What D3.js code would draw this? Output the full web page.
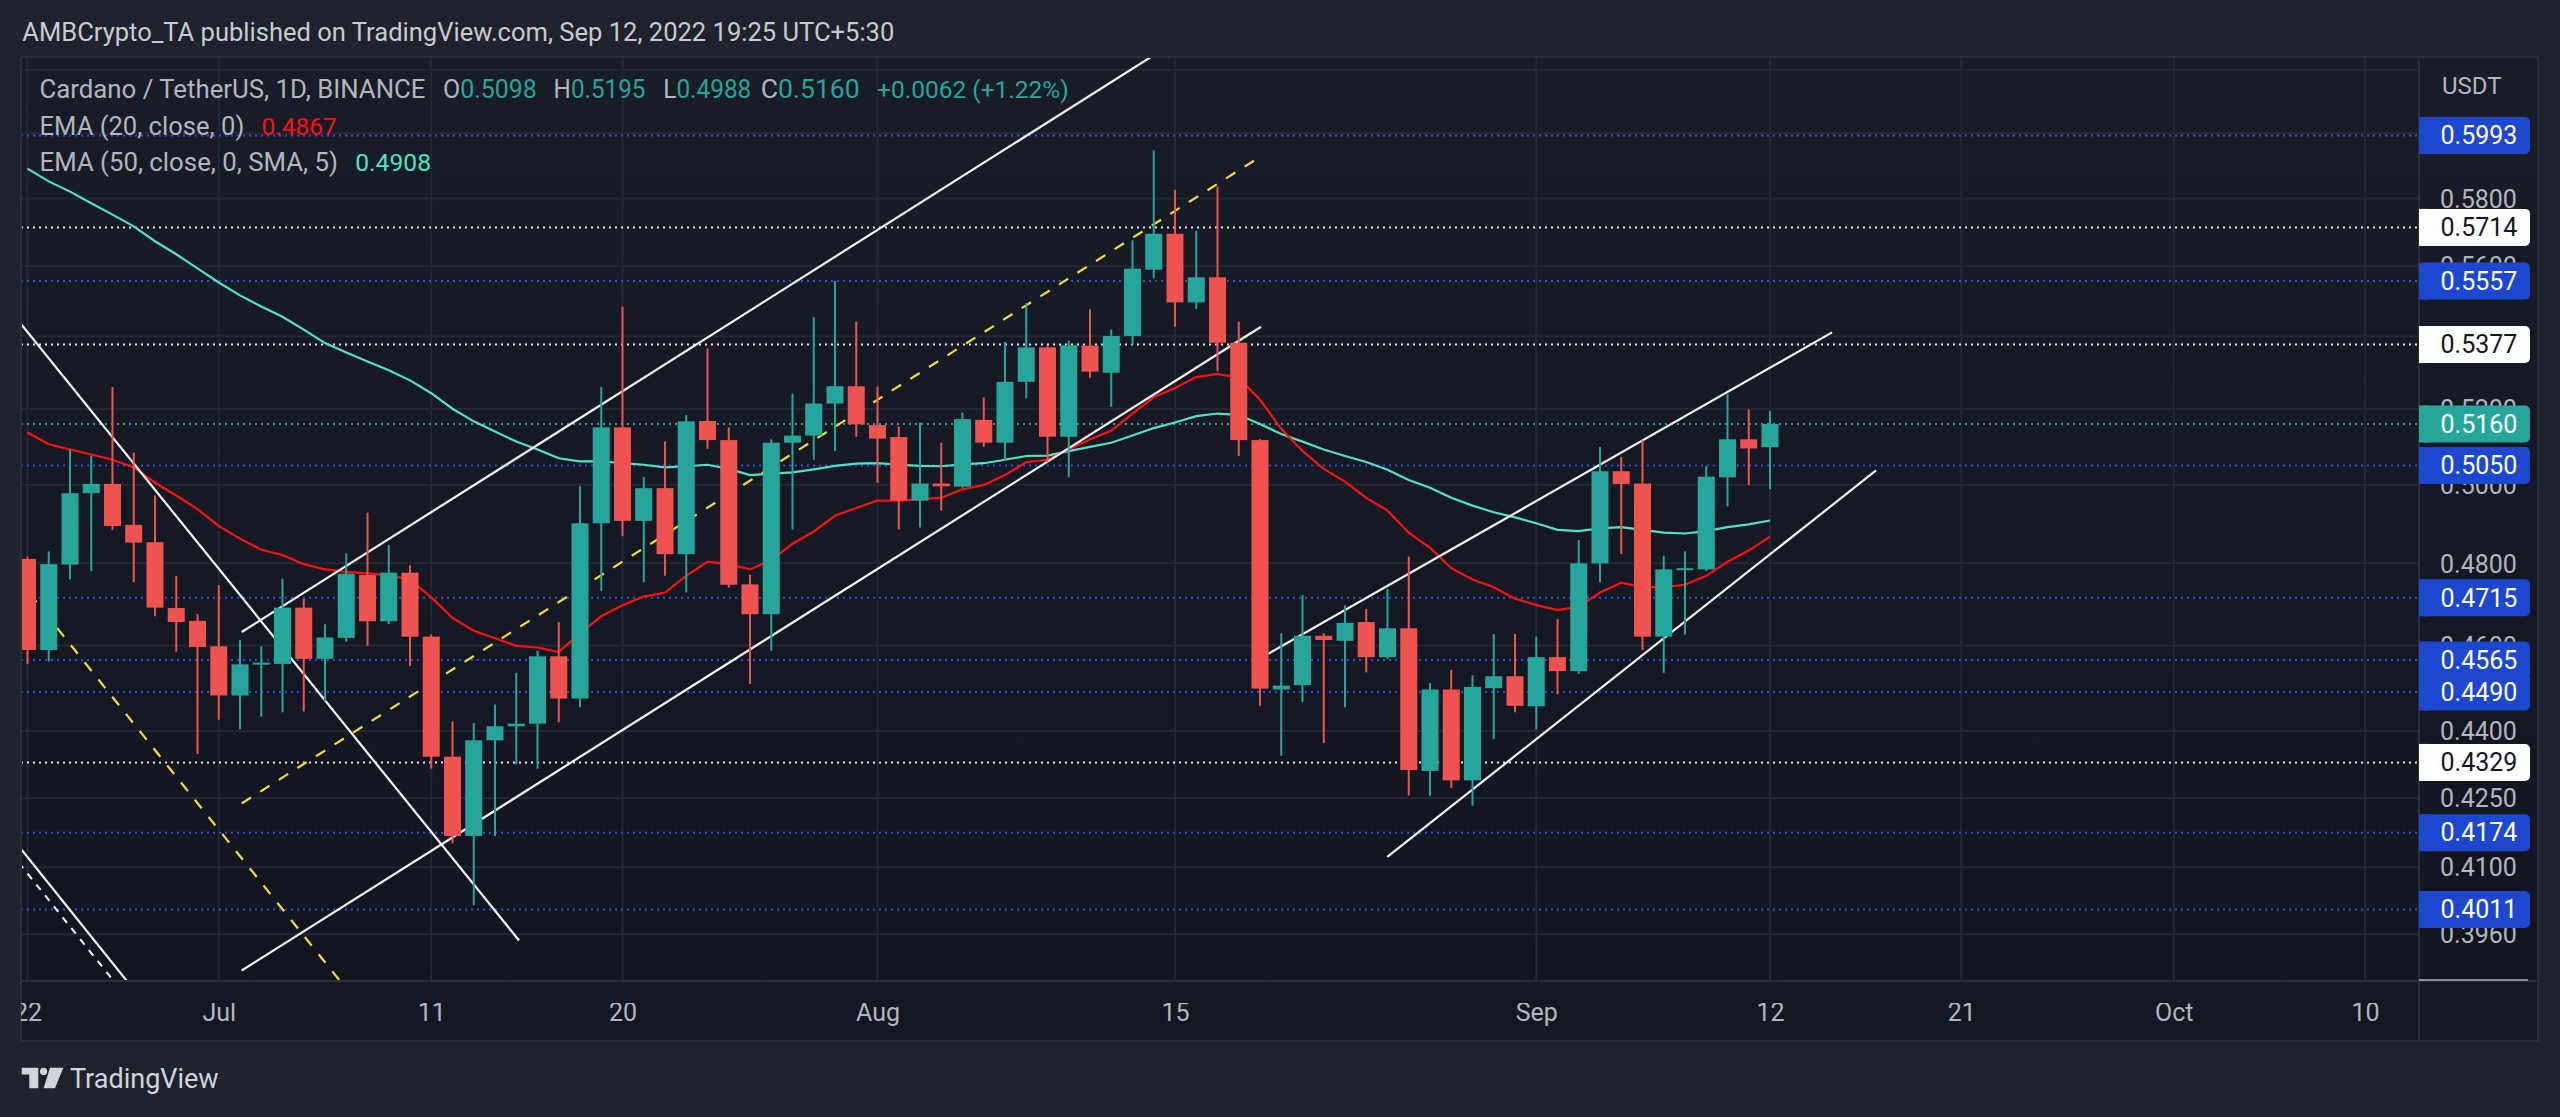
<!DOCTYPE html>
<html><head><meta charset="utf-8">
<script src="https://cdn.jsdelivr.net/npm/d3@7"></script>
<style>
html,body{margin:0;padding:0;background:#1e222d;overflow:hidden}
svg{display:block}
text{font-family:Roboto,"Noto Sans",sans-serif}
</style>
</head><body>
<svg id="chart" width="2560" height="1117"></svg>
<script>
// ---------------- DATA ----------------
const firstDay = "2022-06-22";   // first daily candle
const lastDay  = "2022-09-12";   // last daily candle
const opens = [.4811,.4589,.4797,.4978,.5002,.4897,.4853,.4690,.4659,.4598,
  .4482,.4555,.4556,.4691,.4568,.4618,.4771,.4658,.4777,.4621,
  .4342,.4167,.4379,.4411,.4417,.4574,.4475,.4901,.5151,.4907,
  .4991,.4823,.5168,.5117,.4748,.4675,.5110,.5129,.5215,.5262,
  .5157,.5125,.4959,.5003,.4995,.5171,.5110,.5274,.5369,.5126,
  .5374,.5299,.5401,.5590,.5695,.5496,.5568,.5382,.5117,.4496,
  .4506,.4623,.4611,.4656,.4572,.4641,.4310,.4496,.4289,.4499,
  .4527,.4457,.4572,.4539,.4800,.5035,.5003,.4621,.4785,.4785,
  .5019,.5119,.5098];
const highs = [.4817,.4830,.5092,.5076,.5260,.5084,.4972,.4769,.4676,.4746,
  .4613,.4598,.4762,.4713,.4651,.4825,.4928,.4846,.4795,.4626,
  .4422,.4418,.4461,.4535,.4587,.4656,.4996,.5260,.5484,.5020,
  .5113,.5184,.5366,.5151,.4772,.5119,.5242,.5454,.5557,.5441,
  .5261,.5153,.5164,.5110,.5190,.5232,.5384,.5494,.5376,.5388,
  .5476,.5419,.5676,.5947,.5826,.5704,.5836,.5441,.5119,.4629,
  .4722,.4629,.4697,.4688,.4737,.4817,.4511,.4542,.4529,.4627,
  .4627,.4621,.4663,.4858,.5099,.5072,.5117,.4819,.4830,.5048,
  .5240,.5199,.5195];
const lows = [.4556,.4562,.4760,.4781,.4884,.4753,.4670,.4585,.4348,.4426,
  .4404,.4433,.4443,.4445,.4469,.4609,.4599,.4651,.4551,.4315,
  .4151,.4020,.4167,.4325,.4315,.4420,.4455,.4732,.4868,.4753,
  .4769,.4728,.5094,.4740,.4509,.4587,.4885,.5065,.5088,.5126,
  .5005,.4885,.4890,.4933,.4992,.5099,.5065,.5229,.5059,.5019,
  .5285,.5206,.5376,.5565,.5427,.5477,.5303,.5075,.4458,.4344,
  .4467,.4373,.4455,.4536,.4568,.4255,.4255,.4272,.4233,.4382,
  .4443,.4404,.4485,.4532,.4753,.4823,.4589,.4535,.4626,.4781,
  .4944,.4999,.4988];
const closes = [.4589,.4798,.4978,.5002,.4894,.4852,.4691,.4656,.4596,.4482,
  .4555,.4559,.4691,.4568,.4619,.4774,.4658,.4777,.4621,.4342,
  .4167,.4379,.4411,.4417,.4574,.4475,.4901,.5151,.4907,.4991,
  .4823,.5167,.5117,.4747,.4675,.5110,.5129,.5215,.5262,.5159,
  .5121,.4959,.5003,.4996,.5173,.5110,.5274,.5369,.5126,.5375,
  .5302,.5401,.5593,.5695,.5496,.5568,.5382,.5117,.4498,.4505,
  .4623,.4613,.4654,.4572,.4641,.4312,.4496,.4289,.4502,.4527,
  .4458,.4572,.4539,.4800,.5035,.5002,.4621,.4785,.4788,.5021,
  .5119,.5095,.5160];
const ema20 = [.5137,.5106,.5092,.5079,.5065,.5045,.5005,.4972,.4937,.4894,
  .4862,.4834,.4821,.4798,.4785,.4779,.4775,.4770,.4760,.4716,
  .4666,.4635,.4617,.4599,.4595,.4584,.4629,.4670,.4697,.4718,
  .4728,.4769,.4804,.4798,.4785,.4808,.4849,.4880,.4920,.4940,
  .4959,.4959,.4962,.4966,.4988,.4999,.5025,.5059,.5065,.5092,
  .5119,.5142,.5188,.5232,.5257,.5287,.5296,.5285,.5225,.5147,
  .5088,.5041,.5008,.4966,.4933,.4877,.4839,.4788,.4760,.4741,
  .4713,.4697,.4685,.4693,.4728,.4752,.4741,.4741,.4747,.4769,
  .4804,.4832,.4867];
const ema50 = [.5891,.5852,.5821,.5786,.5752,.5717,.5673,.5635,.5594,.5553,
  .5516,.5484,.5455,.5419,.5381,.5355,.5330,.5306,.5278,.5243,
  .5201,.5167,.5140,.5113,.5092,.5069,.5061,.5061,.5056,.5052,
  .5045,.5048,.5052,.5041,.5025,.5029,.5032,.5040,.5049,.5055,
  .5056,.5052,.5049,.5048,.5053,.5056,.5065,.5075,.5076,.5088,
  .5099,.5110,.5129,.5149,.5164,.5181,.5188,.5184,.5160,.5133,
  .5113,.5092,.5075,.5059,.5039,.5012,.4992,.4966,.4946,.4929,
  .4916,.4901,.4884,.4881,.4888,.4891,.4884,.4877,.4875,.4881,
  .4891,.4898,.4908];

const gridPrices = [0.62,0.60,0.58,0.56,0.54,0.52,0.50,0.48,0.46,0.44,0.425,0.41,0.396];
const priceTicks = [0.58,0.56,0.52,0.50,0.48,0.46,0.44,0.425,0.41,0.396];
const priceTickLabels = ["0.5800","0.5600","0.5200","0.5000","0.4800","0.4600","0.4400","0.4250","0.4100","0.3960"];
const timeTicks = ["2022-06-22","2022-07-01","2022-07-11","2022-07-20","2022-08-01","2022-08-15","2022-09-01","2022-09-12","2022-09-21","2022-10-01","2022-10-10"];
const timeTickLabels = ["22","Jul","11","20","Aug","15","Sep","12","21","Oct","10"];

const blueLevels  = [0.5993,0.5557,0.5050,0.4715,0.4565,0.4490,0.4174,0.4011];
const whiteLevels = [0.5714,0.5377,0.4329];
const lastPrice = 0.5160;

// trendlines: [day offset from Jul 1, price] -> [day offset, price]
const solidWhiteLines = [
  [[-9.59,0.5456],[14.13,0.3947]],
  [[-9.82,0.4168],[-3.70,0.3832]],
  [[1.08,0.4632],[44.30,0.6261]],
  [[1.08,0.3886],[49.05,0.5427]],
  [[49.39,0.4580],[75.92,0.5411]],
  [[54.99,0.4122],[77.99,0.5037]]
];
const dashedWhiteLines = [ [[-9.82,0.4133],[-4.17,0.3824]] ];
const dashedYellowLines = [
  [[-8.9,0.4725],[6.18,0.3840]],
  [[1.08,0.4238],[49.10,0.5931]]
];

const header = "AMBCrypto_TA published on TradingView.com, Sep 12, 2022 19:25 UTC+5:30";
const symbolLabel = "Cardano / TetherUS, 1D, BINANCE";
const ohlcKeys = ["O","H","L","C"];
const ohlcVals = ["0.5098","0.5195","0.4988","0.5160"];
const changeLabel = "+0.0062 (+1.22%)";
const ema20Label = "EMA (20, close, 0)", ema20Val = "0.4867";
const ema50Label = "EMA (50, close, 0, SMA, 5)", ema50Val = "0.4908";

// ---------------- LAYOUT ----------------
const W=2560, H=1117;
const pane = {l:21, t:57, r:2419, b:981};
const axR = 2538, axB = 1041;
const UP="#26a69a", DN="#ef5350", GRID="#232734", TXT="#b2b5be";
const BLUE="#1d47cf", RED="#ff1010", CYAN="#50e3c2", YEL="#f2dc3c";

const utc = s => new Date(s+"T00:00:00Z");
const jul1 = utc("2022-07-01");
const dayOff = d => new Date(+jul1 + d*864e5);

const x = d3.scaleUtc().domain([utc("2022-06-22"), utc("2022-10-10")]).range([27.5, 2365]);
const y = d3.scaleLog().domain([0.5993,0.4011]).range([135.5,909.5]);

const dates = d3.utcDay.range(utc(firstDay), d3.utcDay.offset(utc(lastDay),1));
const candles = dates.map((d,i)=>({d, o:opens[i], h:highs[i], l:lows[i], c:closes[i]}));

const svg = d3.select("#chart");
const defs = svg.append("defs");
const grad = defs.append("linearGradient").attr("id","bg").attr("x1",0).attr("y1",0).attr("x2",0).attr("y2",1);
grad.append("stop").attr("offset","0%").attr("stop-color","#181c27");
grad.append("stop").attr("offset","100%").attr("stop-color","#12151f");
defs.append("clipPath").attr("id","clip").append("rect")
  .attr("x",pane.l).attr("y",pane.t).attr("width",pane.r-pane.l).attr("height",pane.b-pane.t);
defs.append("clipPath").attr("id","clipx").append("rect")
  .attr("x",pane.l).attr("y",0).attr("width",pane.r-pane.l).attr("height",60);

svg.append("rect").attr("width",W).attr("height",H).attr("fill","#1e222d");
svg.append("rect").attr("x",pane.l).attr("y",pane.t).attr("width",axR-pane.l).attr("height",pane.b-pane.t).attr("fill","url(#bg)");
svg.append("rect").attr("x",pane.l).attr("y",pane.b).attr("width",axR-pane.l).attr("height",axB-pane.b).attr("fill","#131722");

const plot = svg.append("g").attr("clip-path","url(#clip)");

// grid
plot.append("g").selectAll("line").data(gridPrices).join("line")
  .attr("x1",pane.l).attr("x2",pane.r).attr("y1",d=>y(d)).attr("y2",d=>y(d))
  .attr("stroke",GRID).attr("stroke-width",2);
plot.append("g").selectAll("line").data(timeTicks).join("line")
  .attr("x1",d=>x(utc(d))).attr("x2",d=>x(utc(d))).attr("y1",pane.t).attr("y2",pane.b)
  .attr("stroke",GRID).attr("stroke-width",2);

// horizontal levels
const lvl = plot.append("g");
lvl.selectAll("line.b").data(blueLevels).join("line").attr("class","b")
  .attr("x1",pane.l).attr("x2",pane.r).attr("y1",d=>y(d)).attr("y2",d=>y(d))
  .attr("stroke","#2b4fe0").attr("stroke-width",2).attr("stroke-dasharray","2,4");
lvl.selectAll("line.w").data(whiteLevels).join("line").attr("class","w")
  .attr("x1",pane.l).attr("x2",pane.r).attr("y1",d=>y(d)).attr("y2",d=>y(d))
  .attr("stroke","#e6e6e6").attr("stroke-width",2).attr("stroke-dasharray","2,4");
lvl.append("line").attr("x1",pane.l).attr("x2",pane.r).attr("y1",y(lastPrice)).attr("y2",y(lastPrice))
  .attr("stroke",UP).attr("stroke-width",2).attr("stroke-dasharray","2,4");

// EMA lines
const lineGen = d3.line().x((d,i)=>x(dates[i])).y(d=>y(d));
plot.append("path").attr("d",lineGen(ema50)).attr("fill","none").attr("stroke",CYAN).attr("stroke-width",2.2);
plot.append("path").attr("d",lineGen(ema20)).attr("fill","none").attr("stroke",RED).attr("stroke-width",2.2);

// trendlines
const tl = d3.line().x(p=>x(dayOff(p[0]))).y(p=>y(p[1]));
const tg = plot.append("g").attr("fill","none");
tg.selectAll("path.s").data(solidWhiteLines).join("path").attr("class","s").attr("d",tl)
  .attr("stroke","#f4f4f4").attr("stroke-width",2.2);
tg.selectAll("path.dw").data(dashedWhiteLines).join("path").attr("class","dw").attr("d",tl)
  .attr("stroke","#f4f4f4").attr("stroke-width",2).attr("stroke-dasharray","7,7");
tg.selectAll("path.dy").data(dashedYellowLines).join("path").attr("class","dy").attr("d",tl)
  .attr("stroke",YEL).attr("stroke-width",2.2).attr("stroke-dasharray","11,11");

// candles
const bw = 17;
const cg = plot.append("g");
cg.selectAll("line").data(candles).join("line")
  .attr("x1",d=>x(d.d)).attr("x2",d=>x(d.d)).attr("y1",d=>y(d.h)).attr("y2",d=>y(d.l))
  .attr("stroke",d=>d.c>=d.o?UP:DN).attr("stroke-width",2);
cg.selectAll("rect").data(candles).join("rect")
  .attr("x",d=>x(d.d)-bw/2).attr("width",bw)
  .attr("y",d=>y(Math.max(d.o,d.c)))
  .attr("height",d=>Math.max(2,Math.abs(y(d.o)-y(d.c))))
  .attr("fill",d=>d.c>=d.o?UP:DN);

// pane borders
const bord = svg.append("g").attr("stroke","#2a2e39").attr("stroke-width",2);
bord.append("line").attr("x1",pane.l).attr("x2",axR).attr("y1",pane.t).attr("y2",pane.t);
bord.append("line").attr("x1",pane.l).attr("x2",pane.l).attr("y1",pane.t).attr("y2",axB);
bord.append("line").attr("x1",pane.l).attr("x2",axR).attr("y1",pane.b).attr("y2",pane.b);
bord.append("line").attr("x1",pane.r).attr("x2",pane.r).attr("y1",pane.t).attr("y2",axB);
bord.append("line").attr("x1",axR).attr("x2",axR).attr("y1",pane.t).attr("y2",axB);
bord.append("line").attr("x1",pane.l).attr("x2",axR).attr("y1",axB).attr("y2",axB);
svg.append("line").attr("x1",pane.r).attr("x2",2528).attr("y1",pane.b-1).attr("y2",pane.b-1)
  .attr("stroke","#8a8d96").attr("stroke-width",2);

// price axis
const yAxis = d3.axisRight(y).tickValues(priceTicks).tickSize(0).tickPadding(0)
  .tickFormat((d,i)=>priceTickLabels[i]);
const ya = svg.append("g").attr("transform",`translate(2440,0)`).call(yAxis);
ya.select(".domain").remove();
ya.selectAll("text").attr("fill",TXT).attr("font-size",25).attr("font-family","Roboto").attr("dy","0.35em");

svg.append("text").attr("x",2442).attr("y",94).attr("fill",TXT).attr("font-size",24).text("USDT");

// price labels
const labels = [
  ...blueLevels.map(v=>({v, bg:BLUE, fg:"#ffffff"})),
  ...whiteLevels.map(v=>({v, bg:"#ffffff", fg:"#131722"})),
  {v:lastPrice, bg:UP, fg:"#ffffff"}
];
const lg = svg.append("g");
const lab = lg.selectAll("g").data(labels).join("g").attr("transform",d=>`translate(${pane.r},${y(d.v)})`);
lab.append("rect").attr("x",0).attr("y",-18.5).attr("width",111).attr("height",37).attr("rx",5).attr("fill",d=>d.bg);
lab.append("rect").attr("x",0).attr("y",-18.5).attr("width",10).attr("height",37).attr("fill",d=>d.bg);
lab.append("text").attr("x",21.5).attr("dy","0.35em").attr("font-size",25).attr("fill",d=>d.fg)
  .text(d=>d3.format(".4f")(d.v));

// time axis
const xAxis = d3.axisBottom(x).tickValues(timeTicks.map(utc)).tickSize(0).tickPadding(0)
  .tickFormat((d,i)=>timeTickLabels[i]);
const xa = svg.append("g").attr("transform",`translate(0,1003)`).attr("clip-path","url(#clipx)").call(xAxis);
xa.select(".domain").remove();
xa.selectAll("text").attr("fill",TXT).attr("font-size",25).attr("font-family","Roboto").attr("dy","0.71em");

// header and legend
function txt(s, xx, yy, fill, size, len){
  const t = svg.append("text").attr("x",xx).attr("y",yy).attr("fill",fill).attr("font-size",size).text(s);
  if (len) t.attr("textLength",len).attr("lengthAdjust","spacingAndGlyphs");
  return t;
}
txt(header, 22.3, 41, "#c8cad0", 25, 872);
txt(symbolLabel, 39.5, 98, TXT, 25.5, 386);
const ohlcX = [443,553.6,663.3,760.8];
const ohlcW = [93.8,91.8,88,98.9];
ohlcKeys.forEach((k,i)=>{
  const t = svg.append("text").attr("x",ohlcX[i]).attr("y",98).attr("font-size",25)
    .attr("textLength",ohlcW[i]).attr("lengthAdjust","spacingAndGlyphs");
  t.append("tspan").attr("fill",TXT).text(k);
  t.append("tspan").attr("fill",UP).text(ohlcVals[i]);
});
txt(changeLabel, 877, 98, UP, 24.5);
txt(ema20Label, 39.5, 134.5, TXT, 25.5, 204.8);
txt(ema20Val, 261.5, 134.5, RED, 24.5, 75.2);
txt(ema50Label, 39.5, 171, TXT, 25.5, 298.5);
txt(ema50Val, 355.2, 171, CYAN, 24.5, 75.9);

// TradingView logo
const logo = svg.append("g").attr("fill","#d1d4dc");
logo.append("path").attr("d","M21.7 1067.7H38.3V1088.3H29.3V1074.4H21.7Z");
logo.append("circle").attr("cx",43.6).attr("cy",1071.4).attr("r",3.6);
logo.append("path").attr("d","M50 1067.7H63.3L55 1088.3H43.6Z");
svg.append("text").attr("x",70).attr("y",1088.3).attr("fill","#d1d4dc").attr("font-size",27).text("TradingView");
</script>
</body></html>
